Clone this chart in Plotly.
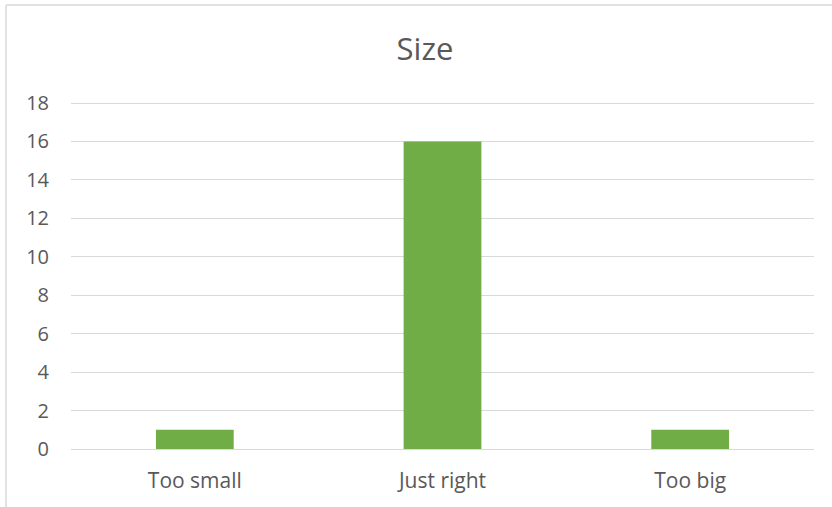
import plotly.graph_objects as go

categories = ["Too small", "Just right", "Too big"]
counts = [1, 16, 1]
y_ticks = [0, 2, 4, 6, 8, 10, 12, 14, 16, 18]

W, H = 832, 507
L, R, T, B = 71, 18, 90, 58
plot_w = W - L - R
plot_h = H - T - B
# headroom above 18 so its gridline sits inside the plot area
y_top = 18 * plot_h / (449 - 103)

fig = go.Figure(
    go.Bar(
        x=categories,
        y=counts,
        marker=dict(color="#70ad47", line=dict(width=0)),
        hoverinfo="x+y",
    )
)

font_family = "Open Sans, Liberation Sans, sans-serif"
label_color = "#595959"

fig.update_layout(
    width=W,
    height=H,
    margin=dict(l=L, r=R, t=T, b=B),
    paper_bgcolor="white",
    plot_bgcolor="white",
    bargap=0.686,
    showlegend=False,
    title=dict(
        text="Size",
        x=425 / W,
        xanchor="center",
        y=1 - 49 / H,
        yanchor="middle",
        font=dict(family=font_family, size=31, color=label_color),
    ),
    font=dict(family=font_family, color=label_color),
)

fig.update_yaxes(
    range=[0, y_top],
    tickvals=y_ticks,
    showgrid=True,
    gridcolor="#d9d9d9",
    gridwidth=1,
    zeroline=True,
    zerolinecolor="#d9d9d9",
    zerolinewidth=1,
    showline=False,
    ticks="",
    ticklabelstandoff=21,
    tickfont=dict(family=font_family, size=20, color=label_color),
    fixedrange=True,
)
fig.update_xaxes(
    showgrid=False,
    showline=False,
    ticks="",
    ticklabelstandoff=17,
    tickfont=dict(family=font_family, size=21, color=label_color),
    fixedrange=True,
)

# chart-area border (left and top edges)
def px_x(px):
    return (px - L) / plot_w

def px_y(py):
    return (H - B - py) / plot_h

border = dict(color="#d9d9d9", width=1.5)
fig.add_shape(type="line", xref="paper", yref="paper",
              x0=px_x(6), x1=px_x(6), y0=px_y(H + 2), y1=px_y(5), line=border)
fig.add_shape(type="line", xref="paper", yref="paper",
              x0=px_x(6), x1=px_x(W + 2), y0=px_y(5), y1=px_y(5), line=border)

fig.write_html("out.html")
